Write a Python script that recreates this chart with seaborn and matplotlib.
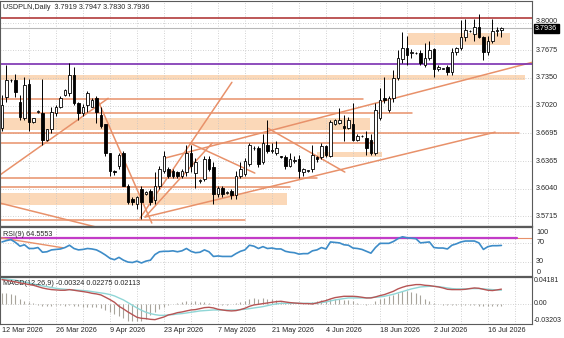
import numpy as np
import pandas as pd
import matplotlib
matplotlib.use("Agg")
import matplotlib.pyplot as plt
import matplotlib.transforms as mtransforms
import seaborn as sns

sns.set_style("white")
plt.rcParams["font.family"] = ["Liberation Sans", "DejaVu Sans"]

# ---------------- данные свечей (USDPLN, Daily) ----------------
opens = [3.676, 3.712, 3.732, 3.733, 3.707, 3.687, 3.728, 3.683, 3.695, 3.693,
         3.662, 3.674, 3.693, 3.701, 3.715, 3.717, 3.738, 3.705, 3.693, 3.703,
         3.701, 3.711, 3.691, 3.680, 3.646, 3.625, 3.631, 3.646, 3.607, 3.592,
         3.586, 3.603, 3.598, 3.601, 3.590, 3.607, 3.625, 3.627, 3.625, 3.623,
         3.619, 3.623, 3.646, 3.622, 3.613, 3.615, 3.639, 3.629, 3.598, 3.605,
         3.599, 3.601, 3.596, 3.619, 3.621, 3.633, 3.652, 3.652, 3.635, 3.656,
         3.648, 3.646, 3.642, 3.641, 3.631, 3.637, 3.639, 3.623, 3.625, 3.627,
         3.641, 3.641, 3.654, 3.642, 3.680, 3.682, 3.678, 3.676, 3.680, 3.662,
         3.666, 3.664, 3.662, 3.646, 3.687, 3.711, 3.697, 3.711, 3.735, 3.757,
         3.770, 3.764, 3.764, 3.764, 3.750, 3.758, 3.769, 3.746, 3.746, 3.748,
         3.742, 3.765, 3.770, 3.783, 3.790, 3.787, 3.795, 3.783, 3.765, 3.779,
         3.791, 3.7919]
highs = [3.715, 3.750, 3.734, 3.740, 3.715, 3.736, 3.734, 3.688, 3.697, 3.734,
         3.675, 3.701, 3.703, 3.713, 3.722, 3.752, 3.748, 3.707, 3.704, 3.719,
         3.711, 3.713, 3.701, 3.680, 3.646, 3.626, 3.646, 3.648, 3.609, 3.594,
         3.595, 3.607, 3.601, 3.603, 3.623, 3.631, 3.648, 3.630, 3.627, 3.625,
         3.627, 3.656, 3.656, 3.640, 3.615, 3.642, 3.642, 3.635, 3.607, 3.607,
         3.601, 3.603, 3.625, 3.635, 3.640, 3.658, 3.654, 3.654, 3.668, 3.685,
         3.658, 3.660, 3.643, 3.644, 3.646, 3.642, 3.644, 3.628, 3.626, 3.656,
         3.642, 3.658, 3.656, 3.685, 3.686, 3.699, 3.691, 3.689, 3.705, 3.668,
         3.667, 3.672, 3.668, 3.705, 3.723, 3.736, 3.713, 3.744, 3.768, 3.789,
         3.785, 3.769, 3.765, 3.768, 3.776, 3.779, 3.770, 3.750, 3.747, 3.750,
         3.770, 3.772, 3.803, 3.805, 3.792, 3.805, 3.811, 3.785, 3.785, 3.805,
         3.795, 3.7947]
lows = [3.672, 3.706, 3.730, 3.712, 3.685, 3.685, 3.672, 3.682, 3.693, 3.656,
        3.660, 3.670, 3.690, 3.699, 3.713, 3.713, 3.703, 3.685, 3.690, 3.695,
        3.700, 3.682, 3.676, 3.642, 3.619, 3.620, 3.627, 3.607, 3.586, 3.584,
        3.580, 3.568, 3.596, 3.584, 3.586, 3.603, 3.622, 3.617, 3.617, 3.617,
        3.617, 3.619, 3.623, 3.605, 3.611, 3.613, 3.625, 3.586, 3.594, 3.594,
        3.598, 3.592, 3.592, 3.617, 3.619, 3.631, 3.650, 3.629, 3.633, 3.646,
        3.646, 3.644, 3.640, 3.627, 3.629, 3.634, 3.617, 3.619, 3.624, 3.623,
        3.635, 3.639, 3.641, 3.641, 3.679, 3.680, 3.660, 3.674, 3.660, 3.660,
        3.665, 3.644, 3.644, 3.644, 3.685, 3.705, 3.695, 3.707, 3.732, 3.753,
        3.750, 3.759, 3.763, 3.750, 3.748, 3.756, 3.736, 3.743, 3.745, 3.738,
        3.738, 3.762, 3.768, 3.779, 3.789, 3.778, 3.782, 3.756, 3.762, 3.776,
        3.785, 3.7830]
closes = [3.703, 3.732, 3.733, 3.718, 3.689, 3.726, 3.683, 3.687, 3.696, 3.662,
          3.674, 3.695, 3.701, 3.711, 3.721, 3.738, 3.705, 3.693, 3.701, 3.717,
          3.709, 3.695, 3.678, 3.646, 3.625, 3.623, 3.644, 3.607, 3.588, 3.588,
          3.594, 3.588, 3.600, 3.588, 3.607, 3.627, 3.642, 3.619, 3.619, 3.619,
          3.625, 3.646, 3.631, 3.636, 3.614, 3.639, 3.627, 3.598, 3.605, 3.598,
          3.600, 3.596, 3.619, 3.627, 3.637, 3.656, 3.652, 3.633, 3.658, 3.648,
          3.650, 3.652, 3.641, 3.631, 3.639, 3.637, 3.625, 3.627, 3.625, 3.644,
          3.639, 3.654, 3.644, 3.683, 3.685, 3.685, 3.676, 3.685, 3.662, 3.666,
          3.666, 3.652, 3.646, 3.697, 3.709, 3.709, 3.711, 3.735, 3.758, 3.770,
          3.762, 3.766, 3.764, 3.752, 3.759, 3.768, 3.746, 3.748, 3.746, 3.742,
          3.765, 3.770, 3.783, 3.792, 3.791, 3.795, 3.783, 3.765, 3.779, 3.791,
          3.792, 3.7936]

# RSI(9)
rsi = [72, 75, 77, 71, 63, 66, 58, 58, 60, 50, 51, 55, 56, 57, 60, 65, 58, 55, 56, 58,
       57, 55, 50, 44, 37, 34, 39, 33, 29, 28, 31, 27, 31, 33, 45, 51, 52, 52, 53, 51,
       53, 58, 52, 49, 50, 55, 51, 41, 42, 41, 41, 41, 47, 52, 55, 65, 63, 58, 62, 58,
       59, 57, 57, 52, 50, 49, 46, 47, 47, 53, 55, 60, 57, 72, 71, 70, 66, 65, 59, 58,
       56, 52, 48, 60, 69, 69, 69, 73, 79, 83, 81, 80, 79, 70, 71, 72, 60, 59, 59, 57,
       65, 68, 72, 74, 74, 74, 70, 56, 62, 64, 64, 64.5553]

# MACD(12,26,9): гистограмма, основная линия, сигнальная
macd_hist = [0.0168, 0.0168, 0.0152, 0.0131, 0.0079, 0.0047, 0.0026, 0.0010, -0.0026, -0.0042,
             -0.0031, -0.0037, -0.0026, -0.0026, -0.0031, -0.0016, -0.0037, -0.0042, -0.0047, -0.0052,
             -0.0047, -0.0058, -0.0068, -0.0094, -0.0131, -0.0162, -0.0199, -0.0225, -0.0267, -0.0278,
             -0.0278, -0.0267, -0.0236, -0.0183, -0.0131, -0.0079, -0.0047, -0.0016, -0.0005, 0.0005,
             0.0021, 0.0037, 0.0026, 0.0037, 0.0031, 0.0026, 0.0016, -0.0005, -0.0016, -0.0016,
             -0.0016, -0.0010, 0.0005, 0.0021, 0.0047, 0.0079, 0.0089, 0.0079, 0.0089, 0.0073,
             0.0068, 0.0058, 0.0026, 0.0016, 0.0005, -0.0005, -0.0005, -0.0005, 0.0005, 0.0026,
             0.0047, 0.0058, 0.0068, 0.0079, 0.0079, 0.0073, 0.0063, 0.0058, 0.0037, 0.0005,
             -0.0005, -0.0016, -0.0005, 0.0047, 0.0079, 0.0089, 0.0115, 0.0131, 0.0168, 0.0194,
             0.0204, 0.0183, 0.0162, 0.0131, 0.0079, 0.0047, 0.0016, -0.0005, -0.0016, -0.0026,
             -0.0021, -0.0016, -0.0016, -0.0021, -0.0026, -0.0026, -0.0031, -0.0042, -0.0037, -0.0031,
             -0.0031, -0.00324]
macd_main = [0.0377, 0.0367, 0.0351, 0.0341, 0.0325, 0.0314, 0.0299, 0.0288, 0.0267, 0.0246,
             0.0231, 0.0220, 0.0215, 0.0210, 0.0210, 0.0220, 0.0210, 0.0199, 0.0189, 0.0178,
             0.0162, 0.0152, 0.0136, 0.0100, 0.0063, 0.0021, -0.0042, -0.0084, -0.0131, -0.0173,
             -0.0215, -0.0231, -0.0236, -0.0247, -0.0252, -0.0231, -0.0210, -0.0178, -0.0163, -0.0142,
             -0.0131, -0.0115, -0.0100, -0.0094, -0.0079, -0.0063, -0.0058, -0.0068, -0.0089, -0.0100,
             -0.0110, -0.0115, -0.0110, -0.0094, -0.0073, -0.0042, -0.0021, -0.0011, 0.0000, 0.0010,
             0.0021, 0.0031, 0.0037, 0.0026, 0.0016, 0.0010, 0.0005, 0.0000, 0.0000, -0.0005,
             0.0010, 0.0031, 0.0047, 0.0073, 0.0094, 0.0105, 0.0115, 0.0115, 0.0115, 0.0110,
             0.0100, 0.0089, 0.0089, 0.0105, 0.0126, 0.0142, 0.0168, 0.0194, 0.0231, 0.0257,
             0.0278, 0.0288, 0.0299, 0.0299, 0.0288, 0.0283, 0.0272, 0.0262, 0.0246, 0.0225,
             0.0220, 0.0220, 0.0220, 0.0225, 0.0236, 0.0246, 0.0241, 0.0225, 0.0210, 0.0205,
             0.0215, 0.02275]
macd_signal = [0.0393, 0.0388, 0.0377, 0.0367, 0.0351, 0.0341, 0.0325, 0.0309, 0.0293, 0.0278,
               0.0267, 0.0252, 0.0241, 0.0231, 0.0225, 0.0220, 0.0215, 0.0210, 0.0205, 0.0199,
               0.0189, 0.0178, 0.0168, 0.0157, 0.0142, 0.0121, 0.0089, 0.0058, 0.0016, -0.0026,
               -0.0068, -0.0105, -0.0136, -0.0157, -0.0173, -0.0184, -0.0184, -0.0178, -0.0173, -0.0163,
               -0.0157, -0.0147, -0.0136, -0.0126, -0.0115, -0.0110, -0.0105, -0.0100, -0.0100, -0.0100,
               -0.0100, -0.0100, -0.0100, -0.0094, -0.0089, -0.0079, -0.0068, -0.0058, -0.0047, -0.0032,
               -0.0016, -0.0005, 0.0005, 0.0005, 0.0005, 0.0005, 0.0005, 0.0005, 0.0005, 0.0005,
               0.0010, 0.0016, 0.0026, 0.0042, 0.0058, 0.0068, 0.0079, 0.0089, 0.0089, 0.0089,
               0.0089, 0.0089, 0.0094, 0.0100, 0.0105, 0.0115, 0.0131, 0.0147, 0.0168, 0.0189,
               0.0210, 0.0231, 0.0246, 0.0262, 0.0267, 0.0272, 0.0272, 0.0267, 0.0257, 0.0246,
               0.0236, 0.0231, 0.0231, 0.0231, 0.0236, 0.0236, 0.0236, 0.0231, 0.0225, 0.0220,
               0.0215, 0.02113]

date_labels = ["12 Mar 2026", "26 Mar 2026", "9 Apr 2026", "23 Apr 2026", "7 May 2026",
               "21 May 2026", "4 Jun 2026", "18 Jun 2026", "2 Jul 2026", "16 Jul 2026"]
price_ticks = [3.8000, 3.7675, 3.7350, 3.7020, 3.6695, 3.6365, 3.6040, 3.5715]

# ---------------- графические объекты на графике ----------------
# прямоугольники (зоны): начало, конец (номер бара), низ, верх (цена)
zone_x0 = [-0.5, 90.2, -0.5, -0.5, 70.0]
zone_x1 = [116.2, 112.9, 81.8, 63.3, 84.4]
zone_lo = [3.7321, 3.7734, 3.6730, 3.5845, 3.6412]
zone_hi = [3.7385, 3.7876, 3.6872, 3.5987, 3.6471]

# горизонтальные линии: цена, от бара, до бара
hline_y = [3.7096, 3.6931, 3.6699, 3.6577, 3.6164, 3.6057, 3.5668]
hline_x0 = [-0.5, -0.5, -0.5, -0.5, -0.5, -0.5, -0.5]
hline_x1 = [80.2, 91.1, 115.0, 83.3, 70.0, 64.0, 54.0]

# трендовые линии: (бар1, цена1) -> (бар2, цена2)
trend_x0 = [-0.5, 21.1, -0.5, 30.7, 36.2, 31.8, 59.1, 31.8, 41.8]
trend_y0 = [3.6199, 3.7108, 3.5869, 3.5691, 3.6400, 3.5703, 3.6754, 3.5703, 3.6577]
trend_x1 = [23.6, 33.3, 21.8, 51.1, 117.8, 109.6, 76.2, 46.7, 56.2]
trend_y1 = [3.7108, 3.5632, 3.5573, 3.7297, 3.7533, 3.6707, 3.6235, 3.6577, 3.6223]

red_level = 3.8053
purple_level = 3.7510
bid = 3.7936

n = len(closes)
df = pd.DataFrame({"bar": np.arange(n), "open": opens, "high": highs, "low": lows,
                   "close": closes, "rsi": rsi, "hist": macd_hist,
                   "macd": macd_main, "signal": macd_signal})

W, H = 564, 338
fig = plt.figure(figsize=(W / 100, H / 100), dpi=100)
fig.patch.set_facecolor("white")


def box(x0, y0, x1, y1):
    return [x0 / W, 1 - y1 / H, (x1 - x0) / W, (y1 - y0) / H]


ax = fig.add_axes(box(0, 0.5, 532, 226))
ax_rsi = fig.add_axes(box(0, 227, 532, 277), sharex=ax)
ax_macd = fig.add_axes(box(0, 277, 532, 324), sharex=ax)

xmin, xmax = -0.44, 117.8
orange = "#e8916a"
peach = "#fbd8b8"
grid_kw = dict(color="#c4c4c4", lw=0.6, ls=(0, (1, 2)), zorder=0.8)
lab_fs = 5.2

for a in (ax, ax_rsi, ax_macd):
    a.set_facecolor("white")
    for s in a.spines.values():
        s.set_color("#5a5a5a")
        s.set_linewidth(0.8)
    a.tick_params(left=False, bottom=False, labelleft=False, labelbottom=False,
                  right=False, labelright=False)
    for b in range(6, 118, 6):
        a.axvline(b, **grid_kw)
ax_rsi.spines["top"].set_linewidth(1.6)
ax_macd.spines["top"].set_linewidth(1.6)

# ---------------- основное окно ----------------
ax.set_xlim(xmin, xmax)
ax.set_ylim(3.5597, 3.8265)
for p in price_ticks:
    ax.axhline(p, **grid_kw)

for x0, x1, lo, hi in zip(zone_x0, zone_x1, zone_lo, zone_hi):
    ax.fill_between([x0, x1], lo, hi, color=peach, lw=0, zorder=0.5)
for y, x0, x1 in zip(hline_y, hline_x0, hline_x1):
    ax.plot([x0, x1], [y, y], color=orange, lw=1.1, zorder=2)
for x0, y0, x1, y1 in zip(trend_x0, trend_y0, trend_x1, trend_y1):
    ax.plot([x0, x1], [y0, y1], color=orange, lw=1.1, zorder=2)

ax.axhline(red_level, color="#b23b3b", lw=1.2, zorder=2)
ax.axhline(purple_level, color="#7a2fb0", lw=1.2, zorder=2)
ax.axhline(bid, color="#b8b8b8", lw=0.8, zorder=1.5)

up = df["close"] >= df["open"]
ax.vlines(df["bar"], df["low"], df["high"], color="black", lw=0.7, zorder=3)
body = (df["close"] - df["open"]).where(lambda s: s.abs() > 0.0004, 0.0004)
ax.bar(df["bar"], body, bottom=df["open"], width=0.62,
       color=np.where(up, "white", "black"), edgecolor="black", lw=0.6, zorder=4)

ax.text(0.006, 0.985, "USDPLN,Daily  3.7919 3.7947 3.7830 3.7936", transform=ax.transAxes,
        fontsize=lab_fs, va="top", ha="left")
tr = mtransforms.blended_transform_factory(ax.transAxes, ax.transData)
for p in price_ticks:
    ax.text(1.008, p + (0.0012 if p == 3.8 else 0), f"{p:.4f}", transform=tr, fontsize=lab_fs,
            va="center", ha="left", clip_on=False)
ax.text(1.006, bid, f"{bid:.4f}", transform=tr, fontsize=lab_fs, va="center", ha="left",
        color="white", clip_on=False, zorder=10,
        bbox=dict(boxstyle="square,pad=0.15", fc="black", ec="black"))

# ---------------- RSI ----------------
ax_rsi.set_ylim(-3, 104)
for lv in (70, 30):
    ax_rsi.axhline(lv, **grid_kw)
ax_rsi.axhline(81, color=orange, lw=0.8, zorder=1)
ax_rsi.plot([xmin, 114.4], [81, 81], color="#c23cc8", lw=1.6, zorder=2)
ax_rsi.plot([xmin, 13.5], [81, 59.6], color=orange, lw=1.0, zorder=2)
sns.lineplot(data=df, x="bar", y="rsi", ax=ax_rsi, color="#3d8cc8", lw=1.2, zorder=3)
ax_rsi.set_xlabel("")
ax_rsi.set_ylabel("")
ax_rsi.text(0.006, 0.93, "RSI(9) 64.5553", transform=ax_rsi.transAxes, fontsize=lab_fs,
            va="top", ha="left")
tr_r = mtransforms.blended_transform_factory(ax_rsi.transAxes, ax_rsi.transData)
for lv, va in [(100, "top"), (70, "center"), (30, "center"), (0, "bottom")]:
    ax_rsi.text(1.008, lv, str(lv), transform=tr_r, fontsize=lab_fs, va=va, ha="left",
                clip_on=False)

# ---------------- MACD ----------------
ax_macd.set_ylim(-0.03203, 0.04181)
ax_macd.axhline(0, **grid_kw)
ax_macd.vlines(df["bar"], 0, df["hist"], color="#a8a49c", lw=0.8, zorder=2)
sns.lineplot(data=df, x="bar", y="signal", ax=ax_macd, color="#8fd6d6", lw=1.0, zorder=3)
sns.lineplot(data=df, x="bar", y="macd", ax=ax_macd, color="#b65454", lw=1.0, zorder=4)
ax_macd.set_xlabel("")
ax_macd.set_ylabel("")
ax_macd.text(0.006, 0.93, "MACD(12,26,9) -0.00324 0.02275 0.02113", transform=ax_macd.transAxes,
             fontsize=lab_fs, va="top", ha="left")
tr_m = mtransforms.blended_transform_factory(ax_macd.transAxes, ax_macd.transData)
for lv, txt, va in [(0.04181, "0.04181", "top"), (0.0, "0.00", "center"),
                    (-0.03203, "-0.03203", "bottom")]:
    ax_macd.text(1.004, lv, txt, transform=tr_m, fontsize=5.0, va=va, ha="left",
                 clip_on=False)

# подписи дат
tr_d = mtransforms.blended_transform_factory(ax_macd.transData, ax_macd.transAxes)
for i, lab in enumerate(date_labels):
    ax_macd.text(i * 12, -0.06, lab, transform=tr_d, fontsize=lab_fs, va="top", ha="left",
                 clip_on=False)

ax.set_xlim(xmin, xmax)
fig.savefig("out.png", dpi=100, facecolor="white")
